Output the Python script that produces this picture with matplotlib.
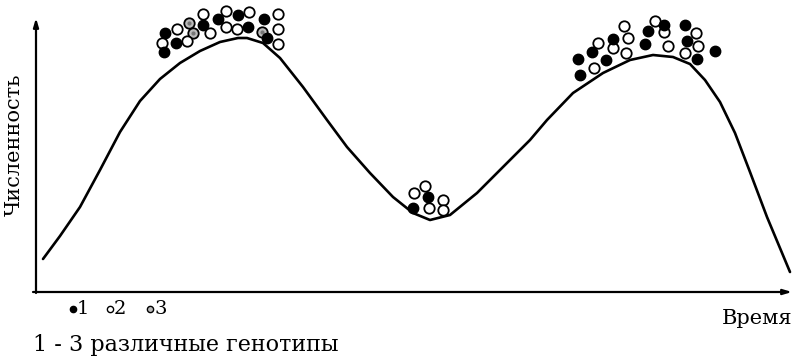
import matplotlib
matplotlib.use("Agg")
import matplotlib.pyplot as plt

# Curve: time (px from origin), abundance (px above x axis)
curve_time = [7, 24, 44, 64, 84, 104, 124, 144, 164, 184, 202, 211, 227, 244,
              267, 291, 311, 334, 357, 377, 394, 414, 441, 467, 494,
              511, 537, 567, 594, 617, 637, 654, 669, 684, 699, 714, 731, 754]
curve_abund = [33, 56, 85, 122, 160, 191, 213, 229, 241, 250, 254, 254, 249, 234,
               205, 172, 145, 119, 95, 79, 72, 77, 99, 125, 152,
               172, 199, 219, 232, 237, 235, 228, 212, 190, 159, 120, 75, 20]

# Genotype dots: time, abundance, genotype (1 filled, 2 open, 3 open with dot)
dots_time = [129, 141, 153, 167, 167, 157, 174, 126, 140, 151, 128,
             182, 190, 202, 213, 190, 201, 212, 228, 242, 226, 231, 242, 242,
             389, 378, 392, 407, 377, 393, 407,
             544, 558, 542, 556, 562, 570, 577, 577, 590, 592, 588, 609, 612,
             619, 628, 632, 628, 649, 660, 651, 662, 649, 661, 679]
dots_abund = [259, 263, 269, 278, 267, 259, 259, 249, 249, 251, 240,
              273, 281, 277, 280, 265, 263, 265, 273, 278, 260, 254, 263, 248,
              106, 99, 95, 92, 84, 84, 82,
              217, 224, 233, 240, 249, 232, 244, 253, 239, 254, 266, 248, 261,
              271, 260, 246, 267, 267, 259, 251, 246, 239, 233, 241]
dots_type = [1, 2, 3, 2, 1, 3, 2, 2, 1, 2, 1,
             1, 2, 1, 2, 2, 2, 1, 1, 2, 3, 1, 2, 2,
             2, 2, 1, 2, 1, 2, 2,
             1, 2, 1, 1, 2, 1, 2, 1, 2, 2, 2, 1, 1,
             2, 2, 2, 1, 1, 2, 1, 2, 2, 1, 1]

legend_labels = ["1", "2", "3"]
x_label = "Время"
y_label = "Численность"
caption = "1 - 3 различные генотипы"

W, H = 798, 358
ox, oy = 36, 292  # origin in pixels

fig = plt.figure(figsize=(W / 100, H / 100), dpi=100)
ax = fig.add_axes([0, 0, 1, 1])
ax.set_xlim(-ox, W - ox)
ax.set_ylim(oy - H, oy)
ax.axis("off")

serif = ["DejaVu Serif"]

# axes with arrows
ax.annotate("", xy=(0, oy - 18), xytext=(0, -1),
            arrowprops=dict(arrowstyle="-|>,head_length=0.5,head_width=0.15",
                            lw=1.6, color="black", shrinkA=0, shrinkB=0))
ax.annotate("", xy=(792 - ox, 0), xytext=(-3, 0),
            arrowprops=dict(arrowstyle="-|>,head_length=0.5,head_width=0.15",
                            lw=1.6, color="black", shrinkA=0, shrinkB=0))

ax.plot(curve_time, curve_abund, color="black", lw=1.9,
        solid_joinstyle="round", solid_capstyle="round")

ms = 7.5
for t, a, g in zip(dots_time, dots_abund, dots_type):
    if g == 1:
        ax.plot(t, a, "o", ms=ms, mfc="black", mec="black", mew=1.0)
    elif g == 2:
        ax.plot(t, a, "o", ms=ms, mfc="white", mec="black", mew=1.3)
    else:
        ax.plot(t, a, "o", ms=ms, mfc="#bbbbbb", mec="black", mew=1.3)
        ax.plot(t, a, "o", ms=3, mfc="#777777", mec="none")

ax.text(14 - ox, oy - 145, y_label, rotation=90, ha="center", va="center",
        fontsize=15, family=serif)
ax.text(792 - ox, oy - 318, x_label, ha="right", va="center",
        fontsize=15, family=serif)
ax.text(33 - ox, oy - 345, caption, ha="left", va="center",
        fontsize=16, family=serif)

# legend row
leg_x = [73, 110, 150]
styles = [dict(mfc="black", mec="black"), dict(mfc="white", mec="black"),
          dict(mfc="#bbbbbb", mec="black")]
for lx, lab, st in zip(leg_x, legend_labels, styles):
    ax.plot(lx - ox, oy - 309, "o", ms=4.5, mew=1.0, **st)
    ax.text(lx + 4 - ox, oy - 309, lab, ha="left", va="center",
            fontsize=14, family=serif)

fig.savefig("out.png", dpi=100, facecolor="white")
